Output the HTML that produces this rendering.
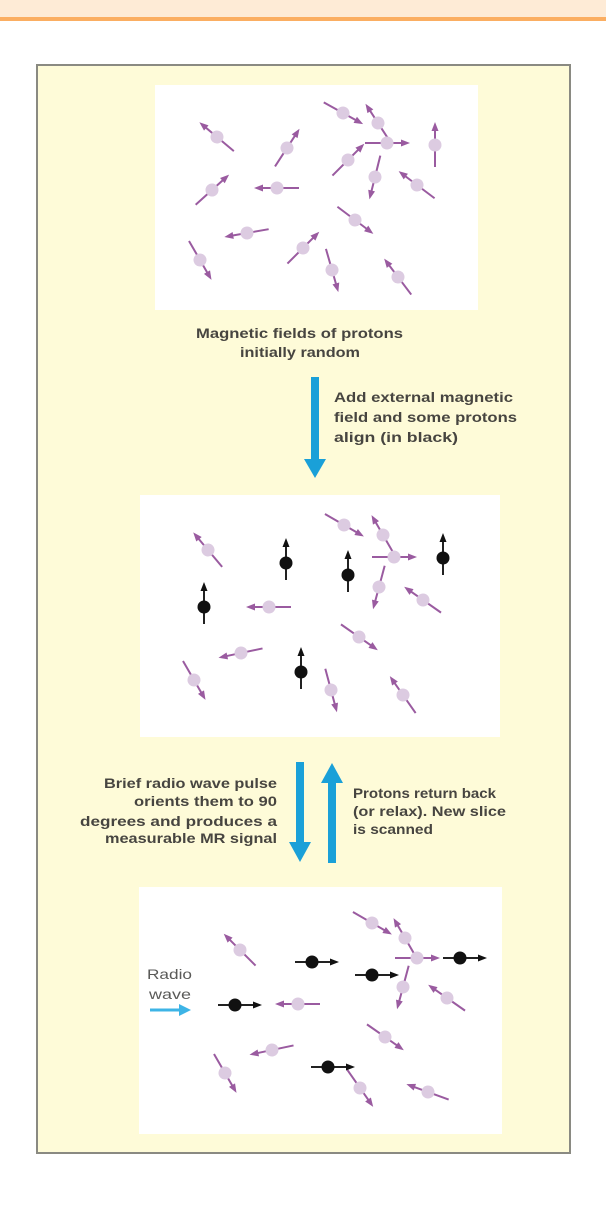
<!DOCTYPE html>
<html><head><meta charset="utf-8"><style>
html,body{margin:0;padding:0;background:#fff;}
svg{display:block;}
text{font-family:"Liberation Sans",sans-serif;font-size:14px;font-weight:bold;fill:#474540;}
</style></head><body>
<svg width="606" height="1215" viewBox="0 0 606 1215" xmlns="http://www.w3.org/2000/svg">
<defs>
<g id="p">
<line x1="-22" y1="0" x2="16" y2="0" stroke="#9a5ba0" stroke-width="2"/>
<polygon points="23,0 14,-3.5 14,3.5" fill="#9a5ba0"/>
<circle r="6.5" fill="#dccbe1"/>
</g>
<g id="bu">
<line x1="0" y1="17" x2="0" y2="-17" stroke="#222" stroke-width="2"/>
<polygon points="0,-25 -3.5,-16 3.5,-16" fill="#111"/>
<circle r="6.5" fill="#111"/>
</g>
<g id="br">
<line x1="-17" y1="0" x2="19" y2="0" stroke="#222" stroke-width="2"/>
<polygon points="27,0 18,-3.5 18,3.5" fill="#111"/>
<circle r="6.5" fill="#111"/>
</g>
</defs>
<rect x="0" y="0" width="606" height="17" fill="#feebd6"/>
<rect x="0" y="17" width="606" height="4" fill="#fbae62"/>
<rect x="37" y="65" width="533" height="1088" fill="#fefbd8" stroke="#8a8a82" stroke-width="2"/>
<rect x="155" y="85" width="323" height="225" fill="#fff"/>
<rect x="140" y="495" width="360" height="242" fill="#fff"/>
<rect x="139" y="887" width="363" height="247" fill="#fff"/>

<!-- panel 1 -->
<use href="#p" transform="translate(217,137) rotate(-140)"/>
<use href="#p" transform="translate(287,148) rotate(-57)"/>
<use href="#p" transform="translate(343,113) rotate(29)"/>
<use href="#p" transform="translate(378,123) rotate(-123)"/>
<use href="#p" transform="translate(387,143) rotate(0)"/>
<use href="#p" transform="translate(435,145) rotate(-90)"/>
<use href="#p" transform="translate(348,160) rotate(-45)"/>
<use href="#p" transform="translate(375,177) rotate(104)"/>
<use href="#p" transform="translate(417,185) rotate(-143)"/>
<use href="#p" transform="translate(212,190) rotate(-42)"/>
<use href="#p" transform="translate(277,188) rotate(180)"/>
<use href="#p" transform="translate(355,220) rotate(37)"/>
<use href="#p" transform="translate(247,233) rotate(170)"/>
<use href="#p" transform="translate(200,260) rotate(60)"/>
<use href="#p" transform="translate(303,248) rotate(-45)"/>
<use href="#p" transform="translate(332,270) rotate(74)"/>
<use href="#p" transform="translate(398,277) rotate(-127)"/>

<text x="196" y="338" textLength="207" lengthAdjust="spacingAndGlyphs">Magnetic fields of protons</text>
<text x="240" y="357" textLength="120" lengthAdjust="spacingAndGlyphs">initially random</text>
<rect x="311" y="377" width="8" height="84" fill="#1aa0d8"/>
<polygon points="304,459 326,459 315,478" fill="#1aa0d8"/>
<text x="334" y="402" textLength="179" lengthAdjust="spacingAndGlyphs">Add external magnetic</text>
<text x="334" y="422" textLength="183" lengthAdjust="spacingAndGlyphs">field and some protons</text>
<text x="334" y="442" textLength="124" lengthAdjust="spacingAndGlyphs">align (in black)</text>

<!-- panel 2 -->
<use href="#p" transform="translate(208,550) rotate(-130)"/>
<use href="#p" transform="translate(344,525) rotate(30)"/>
<use href="#p" transform="translate(383,535) rotate(-120)"/>
<use href="#p" transform="translate(394,557) rotate(0)"/>
<use href="#p" transform="translate(379,587) rotate(105)"/>
<use href="#p" transform="translate(423,600) rotate(-145)"/>
<use href="#p" transform="translate(269,607) rotate(180)"/>
<use href="#p" transform="translate(359,637) rotate(35)"/>
<use href="#p" transform="translate(241,653) rotate(168)"/>
<use href="#p" transform="translate(194,680) rotate(60)"/>
<use href="#p" transform="translate(331,690) rotate(75)"/>
<use href="#p" transform="translate(403,695) rotate(-125)"/>
<use href="#bu" transform="translate(286,563)"/>
<use href="#bu" transform="translate(348,575)"/>
<use href="#bu" transform="translate(443,558)"/>
<use href="#bu" transform="translate(204,607)"/>
<use href="#bu" transform="translate(301,672)"/>

<rect x="296" y="762" width="8" height="82" fill="#1aa0d8"/>
<polygon points="289,842 311,842 300,862" fill="#1aa0d8"/>
<rect x="328" y="781" width="8" height="82" fill="#1aa0d8"/>
<polygon points="321,783 343,783 332,763" fill="#1aa0d8"/>
<text x="104" y="788" textLength="173" lengthAdjust="spacingAndGlyphs">Brief radio wave pulse</text>
<text x="134" y="806" textLength="143" lengthAdjust="spacingAndGlyphs">orients them to 90</text>
<text x="80" y="826" textLength="197" lengthAdjust="spacingAndGlyphs">degrees and produces a</text>
<text x="105" y="843" textLength="172" lengthAdjust="spacingAndGlyphs">measurable MR signal</text>
<text x="353" y="798" textLength="143" lengthAdjust="spacingAndGlyphs">Protons return back</text>
<text x="353" y="816" textLength="153" lengthAdjust="spacingAndGlyphs">(or relax). New slice</text>
<text x="353" y="834" textLength="80" lengthAdjust="spacingAndGlyphs">is scanned</text>

<!-- panel 3 -->
<use href="#p" transform="translate(240,950) rotate(-135)"/>
<use href="#p" transform="translate(372,923) rotate(30)"/>
<use href="#p" transform="translate(405,938) rotate(-120)"/>
<use href="#p" transform="translate(417,958) rotate(0)"/>
<use href="#p" transform="translate(403,987) rotate(105)"/>
<use href="#p" transform="translate(447,998) rotate(-145)"/>
<use href="#p" transform="translate(298,1004) rotate(180)"/>
<use href="#p" transform="translate(385,1037) rotate(35)"/>
<use href="#p" transform="translate(272,1050) rotate(168)"/>
<use href="#p" transform="translate(225,1073) rotate(60)"/>
<use href="#p" transform="translate(360,1088) rotate(55)"/>
<use href="#p" transform="translate(428,1092) rotate(-160)"/>
<use href="#br" transform="translate(312,962)"/>
<use href="#br" transform="translate(372,975)"/>
<use href="#br" transform="translate(460,958)"/>
<use href="#br" transform="translate(235,1005)"/>
<use href="#br" transform="translate(328,1067)"/>

<text x="147" y="979" textLength="45" lengthAdjust="spacingAndGlyphs" style="fill:#5a5a58;font-weight:normal">Radio</text>
<text x="149" y="999" textLength="42" lengthAdjust="spacingAndGlyphs" style="fill:#5a5a58;font-weight:normal">wave</text>
<line x1="150" y1="1010" x2="180" y2="1010" stroke="#3db4e6" stroke-width="3"/>
<polygon points="191,1010 179,1004 179,1016" fill="#3db4e6"/>
</svg>
</body></html>
